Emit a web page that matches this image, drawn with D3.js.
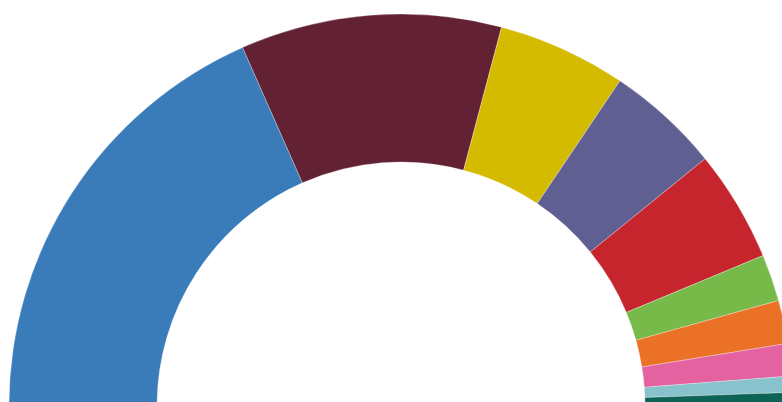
<!DOCTYPE html>
<html>
<head>
<meta charset="utf-8">
<script src="https://cdn.jsdelivr.net/npm/d3@7"></script>
<style>
  html, body { margin: 0; padding: 0; background: #fff; }
</style>
</head>
<body>
<div id="vis"></div>
<script>
const WIDTH = 782;
const HEIGHT = 402;

// parties, left to right, share of the half circle (%)
const parties = ["A", "B", "C", "D", "E", "F", "G", "H", "I", "J"];
const shares = [36.75, 21.5, 10.6, 9.4, 9.2, 3.86, 3.56, 2.67, 1.33, 1.11];
const colors = ["#3a7bb9", "#632234", "#d4bb00", "#5f5f92", "#c6252e",
                "#77ba4a", "#eb7127", "#e3629f", "#88c2cc", "#0e6357"];

const data = parties.map((p, i) => ({ name: p, value: shares[i], color: colors[i] }));

const SVG = d3.select("#vis").append("svg")
    .attr("width", WIDTH)
    .attr("height", HEIGHT);

// centre sits a little below the bottom edge
const cx = 401, cy = 406;
const outerR = 392, innerR = 244;

const pie = d3.pie()
    .sort(null)
    .value(d => d.value)
    .startAngle(-Math.PI / 2)
    .endAngle(Math.PI / 2);

const arc = d3.arc()
    .innerRadius(innerR)
    .outerRadius(outerR);

SVG.append("g")
    .attr("transform", `translate(${cx},${cy})`)
    .selectAll("path")
    .data(pie(data))
    .join("path")
    .attr("d", arc)
    .attr("fill", d => d.data.color)
    .attr("stroke", "#fff")
    .attr("stroke-width", 0.3);
</script>
</body>
</html>
